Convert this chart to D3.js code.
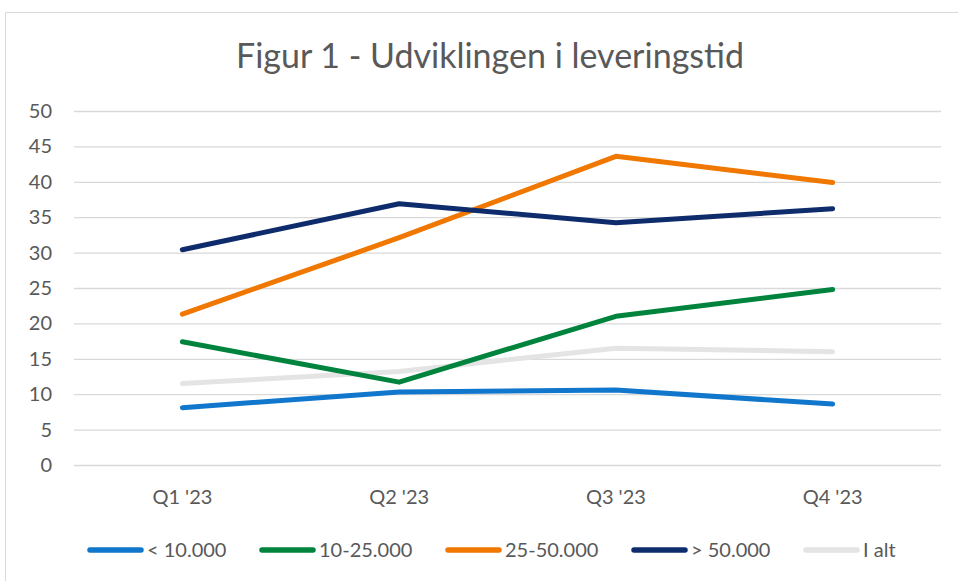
<!DOCTYPE html>
<html>
<head>
<meta charset="utf-8">
<script src="https://cdn.jsdelivr.net/npm/d3@7"></script>
<style>
  body { margin: 0; background: #fff; }
  text { font-family: Lato, "Open Sans", sans-serif; fill: #595959; }
</style>
</head>
<body>
<svg id="chart" width="958" height="581"></svg>
<script>
// data
const quarters = ["Q1 '23", "Q2 '23", "Q3 '23", "Q4 '23"];
const seriesNames = ["< 10.000", "10-25.000", "25-50.000", "> 50.000", "I alt"];
const under10 = [8.1, 10.3, 10.6, 8.6];
const from10to25 = [17.4, 11.7, 21.0, 24.8];
const from25to50 = [21.3, 32.1, 43.6, 39.9];
const over50 = [30.4, 36.9, 34.2, 36.2];
const total = [11.5, 13.2, 16.5, 16.0];
const yTicks = [0, 5, 10, 15, 20, 25, 30, 35, 40, 45, 50];

const colors = ["#1177CC", "#00843D", "#F07800", "#0E2C6C", "#E4E4E4"];
// draw order: grey total sits below the others
const series = [
  { name: seriesNames[4], values: total, color: colors[4] },
  { name: seriesNames[0], values: under10, color: colors[0] },
  { name: seriesNames[1], values: from10to25, color: colors[1] },
  { name: seriesNames[2], values: from25to50, color: colors[2] },
  { name: seriesNames[3], values: over50, color: colors[3] }
];

const svg = d3.select("#chart");
const margin = { top: 111, right: 17, bottom: 116, left: 74 };
const width = 958, height = 581;
const fontSize = "20px";

// outer frame
svg.append("path")
  .attr("d", "M5.5,581 V12.5 H958")
  .attr("fill", "none")
  .attr("stroke", "#d9d9d9")
  .attr("stroke-width", 1);

svg.append("text")
  .attr("x", 490)
  .attr("y", 68)
  .attr("text-anchor", "middle")
  .style("font-size", "34px")
  .text("Figur 1 - Udviklingen i leveringstid");

const x = d3.scaleBand()
  .domain(quarters)
  .range([margin.left, width - margin.right]);

const y = d3.scaleLinear()
  .domain([0, 50])
  .range([height - margin.bottom, margin.top]);

// gridlines + y labels
const yAxis = svg.append("g")
  .attr("transform", `translate(${margin.left},0)`)
  .call(d3.axisLeft(y).tickValues(yTicks).tickSize(-(width - margin.right - margin.left)).tickPadding(22));
yAxis.select(".domain").remove();
yAxis.selectAll(".tick line").attr("stroke", "#d9d9d9").attr("stroke-width", 1.3);
yAxis.selectAll(".tick text").style("font-size", fontSize).attr("fill", "#595959")
  .style("font-family", "Lato, sans-serif");

// x labels
const xAxis = svg.append("g")
  .attr("transform", `translate(0,${height - margin.bottom})`)
  .call(d3.axisBottom(x).tickSize(0).tickPadding(25));
xAxis.select(".domain").remove();
xAxis.selectAll(".tick text").style("font-size", fontSize).attr("fill", "#595959")
  .style("font-family", "Lato, sans-serif");

const line = d3.line()
  .x((d, i) => x(quarters[i]) + x.bandwidth() / 2)
  .y(d => y(d));

svg.append("g")
  .selectAll("path")
  .data(series)
  .join("path")
  .attr("d", d => line(d.values))
  .attr("fill", "none")
  .attr("stroke", d => d.color)
  .attr("stroke-width", 5)
  .attr("stroke-linecap", "round")
  .attr("stroke-linejoin", "round");

// legend
const legendX = [88, 260, 446, 632, 804];
const legend = svg.append("g")
  .selectAll("g")
  .data(seriesNames)
  .join("g")
  .attr("transform", (d, i) => `translate(${legendX[i]},550)`);
legend.append("line")
  .attr("x1", 2).attr("x2", 53)
  .attr("stroke", (d, i) => colors[i])
  .attr("stroke-width", 5.5)
  .attr("stroke-linecap", "round");
legend.append("text")
  .attr("x", 59)
  .attr("dy", "0.35em")
  .style("font-size", fontSize)
  .text(d => d);
</script>
</body>
</html>
